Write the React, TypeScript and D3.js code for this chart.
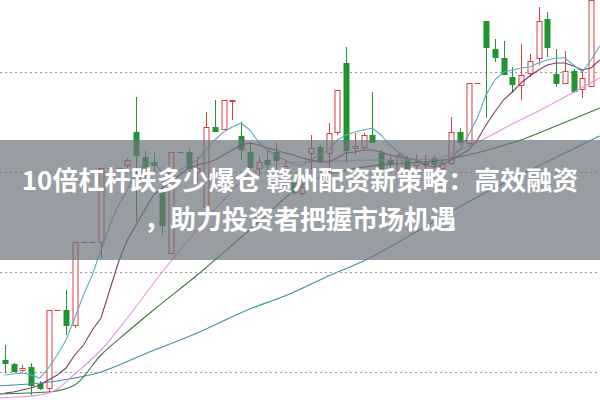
import * as d3 from 'd3';

// candle prices, day 1..68 (arbitrary price units)
const OPEN = [11.2, 10.8, 10.2, 10.5, 8.8, 8.4, 16.2, 16.2, 14.7, 23.0, 23.0, 23.0, 30.4, 30.4, 30.7, 34.0, 31.5, 31.0, 28.2, 21.9, 32.0, 32.0, 30.0, 26.5, 34.5, 34.3, 37.1, 33.6, 32.0, 30.4, 31.2, 32.0, 30.2, 28.9, 27.9, 31.9, 32.5, 31.9, 34.0, 40.9, 32.4, 32.5, 33.7, 31.9, 31.2, 30.2, 31.4, 30.7, 30.8, 31.4, 30.4, 30.9, 34.0, 32.9, 38.9, 45.1, 42.3, 41.4, 39.5, 38.7, 39.9, 41.4, 45.3, 39.8, 38.9, 40.1, 38.3, 38.6];
const HIGH = [12.7, 10.9, 10.7, 10.9, 9.1, 16.2, 16.2, 18.2, 23.0, 23.0, 23.0, 30.4, 30.4, 30.4, 31.4, 37.5, 32.1, 31.9, 29.4, 32.0, 32.0, 32.4, 31.5, 36.0, 37.2, 37.2, 37.2, 35.0, 33.0, 31.6, 32.2, 32.9, 31.2, 29.4, 29.0, 33.7, 32.7, 34.9, 38.2, 42.5, 33.9, 33.9, 38.0, 32.2, 31.7, 32.0, 31.6, 31.7, 31.7, 31.7, 31.2, 35.5, 34.4, 38.9, 38.9, 45.1, 43.3, 43.1, 40.5, 42.8, 41.8, 46.5, 46.0, 42.3, 42.1, 40.3, 40.3, 48.0];
const LOW = [9.9, 10.0, 10.0, 7.7, 8.2, 7.9, 16.2, 13.7, 14.4, 23.0, 23.0, 21.4, 30.4, 30.4, 30.4, 25.0, 29.4, 29.7, 23.7, 21.9, 32.0, 29.9, 28.9, 26.5, 34.0, 34.2, 35.2, 31.2, 29.7, 29.4, 30.2, 30.2, 29.7, 27.7, 27.6, 30.2, 30.9, 28.5, 33.7, 30.9, 31.7, 32.2, 32.9, 29.9, 30.0, 28.8, 30.0, 30.2, 29.9, 30.4, 30.2, 30.7, 32.7, 32.7, 38.9, 35.4, 41.0, 39.7, 37.9, 37.2, 39.5, 40.7, 41.5, 38.5, 38.8, 37.9, 37.4, 38.5];
const CLOSE = [10.9, 10.1, 10.4, 8.7, 8.4, 16.2, 16.2, 14.7, 23.0, 23.0, 23.0, 30.4, 30.4, 30.4, 31.2, 31.7, 30.0, 30.7, 24.7, 32.0, 32.0, 30.4, 30.4, 34.5, 34.1, 37.2, 37.2, 32.3, 30.5, 31.0, 30.8, 31.2, 30.6, 28.0, 28.5, 32.4, 31.2, 33.9, 38.2, 32.2, 32.6, 33.7, 33.0, 30.4, 30.9, 31.7, 30.2, 31.0, 30.9, 30.8, 30.9, 34.0, 33.0, 38.9, 38.9, 42.5, 41.5, 39.8, 38.8, 39.7, 41.1, 45.1, 42.5, 38.9, 40.1, 38.1, 39.4, 47.2];

// moving averages, day 1..69
const MA5 = [9.7, 9.8, 9.9, 9.7, 9.4, 10.4, 11.7, 13.2, 15.4, 17.7, 19.7, 22.2, 24.7, 26.7, 28.2, 30.0, 30.9, 30.9, 30.0, 29.7, 30.2, 30.7, 31.2, 32.2, 33.2, 34.0, 34.5, 34.9, 34.2, 33.0, 32.2, 31.7, 31.2, 30.7, 30.7, 31.2, 31.7, 32.2, 33.2, 33.7, 34.0, 34.2, 34.4, 33.7, 32.7, 32.0, 31.4, 31.2, 31.0, 30.9, 31.0, 31.4, 32.2, 33.7, 35.4, 37.7, 39.2, 40.0, 40.2, 40.4, 40.5, 40.9, 41.2, 41.4, 41.4, 40.7, 40.0, 41.2, 42.6];
const MA10 = [7.9, 8.0, 8.2, 8.4, 8.7, 9.2, 9.7, 10.4, 11.7, 12.7, 14.2, 15.4, 18.2, 21.0, 23.2, 24.7, 26.2, 27.7, 28.4, 29.0, 29.7, 30.4, 30.7, 30.9, 31.2, 31.7, 32.2, 32.7, 32.9, 32.7, 32.4, 32.2, 31.9, 31.7, 31.4, 31.2, 31.0, 31.0, 31.4, 31.9, 32.0, 32.2, 32.2, 32.0, 31.7, 31.5, 31.4, 31.2, 30.7, 30.5, 30.7, 31.2, 31.7, 32.2, 33.2, 34.7, 36.0, 37.2, 38.0, 38.9, 39.6, 40.2, 40.7, 40.9, 40.9, 40.6, 40.2, 40.4, 41.2];
// longer averages read at sample days: [day, value]
const MA20: [number, number][] = [[0, 7.4], [5, 7.7], [7, 8.3], [9, 9.8], [12, 12.2], [15, 15.4], [19, 20.0], [22, 23.2], [26, 27.2], [29, 29.8], [32, 30.8], [35, 31.0], [39, 31.1], [43, 31.2], [47, 31.2], [50, 31.3], [53, 32.2], [56, 33.4], [59, 34.8], [62, 36.1], [65, 37.5], [69, 39.4]];
const MA30: [number, number][] = [[0, 7.8], [6, 8.0], [9, 8.7], [12, 11.7], [15, 14.0], [18, 16.2], [23, 19.7], [27, 22.7], [30, 25.0], [35, 28.7], [39, 30.0], [43, 30.6], [47, 30.9], [51, 31.2], [54, 31.7], [57, 32.4], [60, 33.2], [64, 34.6], [69, 36.4]];
const MA60: [number, number][] = [[0, 8.6], [7, 9.1], [12, 10.0], [17, 11.8], [23, 13.9], [29, 16.3], [33, 17.6], [38, 19.6], [42, 21.1], [48, 24.0], [55, 27.5], [62, 30.6], [69, 33.6]];

const GRID = [10, 20, 30, 40];
const TITLE = ['10倍杠杆跌多少爆仓 赣州配资新策略：高效融资', '，助力投资者把握市场机遇'];

const W = 600;
const H = 400;
const RED = '#de3a3f';
const GREEN = '#1f9430';

export default function App() {
  const x = d3.scaleLinear().domain([0, 68]).range([-4, 591]);
  const y = d3.scaleLinear().domain([7.2, 47.2]).range([H, 0]);
  const px = (d: number) => Math.round(x(d)) + 0.5;

  const days = OPEN.map((_, k) => k + 1);

  const seqLine = d3.line<number>().x((_, k) => x(k + 1)).y(v => y(v));
  const pairLine = d3.line<[number, number]>().x(d => x(d[0])).y(d => y(d[1])).curve(d3.curveMonotoneX);

  return (
    <svg width={W} height={H} style={{ position: 'fixed', left: 0, top: 0, background: '#fff' }}>
      {GRID.map(g => (
        <line key={g} x1={0} x2={W} y1={Math.round(y(g)) + 0.5} y2={Math.round(y(g)) + 0.5}
          stroke="#9a9a9a" strokeWidth={1} strokeDasharray="2,3" />
      ))}

      {days.map((d, k) => {
        const o = OPEN[k], c = CLOSE[k], h = HIGH[k], l = LOW[k];
        const up = c >= o;
        const col = up ? RED : GREEN;
        const cx = px(d);
        const top = Math.round(y(Math.max(o, c)));
        const bot = Math.round(y(Math.min(o, c)));
        const yh = Math.round(y(h));
        const yl = Math.round(y(l));
        const flat = bot - top < 1;
        return (
          <g key={d}>
            {yh < top && <line x1={cx} x2={cx} y1={yh} y2={top} stroke={col} />}
            {yl > bot && <line x1={cx} x2={cx} y1={bot} y2={yl} stroke={col} />}
            {flat
              ? <line x1={cx - 3} x2={cx + 3} y1={top + 0.5} y2={top + 0.5} stroke={col} />
              : <rect x={cx - 2.5} y={top + 0.5} width={5} height={bot - top}
                  fill={up ? '#fff' : col} stroke={col} strokeWidth={1} />}
          </g>
        );
      })}

      <path d={pairLine(MA60) ?? ''} fill="none" stroke="#3d92a2" strokeWidth={1.1} />
      <path d={pairLine(MA30) ?? ''} fill="none" stroke="#3b7a3b" strokeWidth={1.1} />
      <path d={pairLine(MA20) ?? ''} fill="none" stroke="#e690e6" strokeWidth={1.1} />
      <path d={seqLine(MA10) ?? ''} fill="none" stroke="#7a3c6c" strokeWidth={1.1} />
      <path d={seqLine(MA5) ?? ''} fill="none" stroke="#55b0c2" strokeWidth={1.1} />

      <rect x={0} y={140} width={W} height={120} fill="rgb(108,114,124)" fillOpacity={0.7} />
      {TITLE.map((t, k) => (
        <text key={k} x={W / 2} y={190 + k * 39} textAnchor="middle" fill="#fff"
          fontFamily="'Noto Sans CJK SC', 'Noto Sans', sans-serif" fontWeight={700} fontSize={26}>
          {t}
        </text>
      ))}
    </svg>
  );
}
